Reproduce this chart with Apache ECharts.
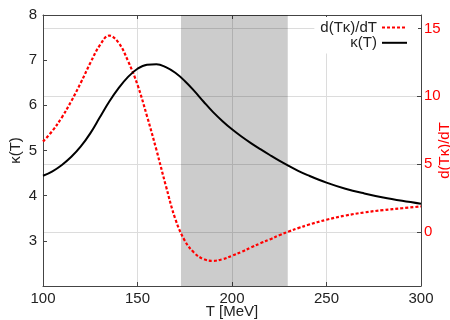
<!DOCTYPE html>
<html><head><meta charset="utf-8">
<script src="https://cdn.jsdelivr.net/npm/echarts@6/dist/echarts.min.js"></script>
<style>html,body{margin:0;padding:0;background:#fff}#c{width:450px;height:320px}</style>
</head><body><div id="c"></div>
<script>
const temps  = [100,105,110,115,120,125,130,135,140,145,150,155,160,165,170,175,180,185,190,195,200,205,210,215,220,225,230,235,240,250,260,270,280,290,300];
const kappa  = [4.44,4.54,4.68,4.86,5.09,5.38,5.73,6.08,6.38,6.63,6.81,6.90,6.91,6.845,6.72,6.54,6.32,6.08,5.85,5.65,5.47,5.31,5.165,5.03,4.90,4.775,4.66,4.55,4.455,4.29,4.155,4.05,3.96,3.885,3.82];
const dTkappa = [6.66,7.45,8.45,9.65,11.0,12.45,13.75,14.48,13.95,12.6,10.85,8.55,6.05,3.4,0.95,-0.65,-1.55,-2.02,-2.14,-2.02,-1.77,-1.48,-1.16,-0.85,-0.56,-0.25,0.02,0.27,0.5,0.89,1.2,1.43,1.6,1.74,1.87];
const xTicks = [100,150,200,250,300];
const leftTicks = [3,4,5,6,7,8];
const rightTicks = [0,5,10,15];
const bandRange = [173, 229.5];
const seriesNames = ['d(Tκ)/dT', 'κ(T)'];

const FONT = '"Liberation Sans", Arial, sans-serif';
const FRAME = '#444';
const chart = echarts.init(document.getElementById('c'));
const kData = temps.map((t,i)=>[t,kappa[i]]);
const dData = temps.map((t,i)=>[t,dTkappa[i]]);
chart.setOption({
  animation:false,
  textStyle:{fontFamily:FONT},
  grid:{left:43,right:29,top:15,bottom:34,containLabel:false,outerBoundsMode:'none'},
  legend:{
    orient:'vertical', align:'right', right:32, top:17,
    itemWidth:25, itemHeight:19, itemGap:0,
    backgroundColor:'#fff', padding:[3,10,3,6],
    itemStyle:{opacity:0},
    textStyle:{fontSize:15,color:'#222',fontFamily:FONT},
    data:seriesNames
  },
  xAxis:[{
    type:'value', min:xTicks[0], max:xTicks[xTicks.length-1], interval:50,
    name:'T [MeV]', nameLocation:'middle', nameGap:18, nameMoveOverlap:false,
    nameTextStyle:{fontSize:15,color:'#222',fontFamily:FONT},
    axisLine:{onZero:false,lineStyle:{color:FRAME,width:1}},
    axisTick:{inside:true,length:4,lineStyle:{color:FRAME}},
    axisLabel:{fontSize:15,color:'#222',margin:5,fontFamily:FONT},
    splitLine:{show:true,lineStyle:{color:'#dcdcdc',width:1}}
  },{
    type:'value', position:'top', min:xTicks[0], max:xTicks[xTicks.length-1], interval:50,
    axisLine:{show:true,onZero:false,lineStyle:{color:FRAME,width:1}},
    axisTick:{show:true,inside:true,length:4,lineStyle:{color:FRAME}},
    axisLabel:{show:false}, splitLine:{show:false}
  }],
  yAxis:[{
    type:'value', position:'left', min:2, max:8,
    name:'κ(T)', nameLocation:'middle', nameGap:20, nameRotate:90, nameMoveOverlap:false,
    nameTextStyle:{fontSize:15,color:'#222',fontFamily:FONT},
    axisLine:{show:true,onZero:false,lineStyle:{color:FRAME,width:1}},
    axisTick:{show:true,inside:true,length:4,customValues:leftTicks,lineStyle:{color:FRAME}},
    axisLabel:{fontSize:15,color:'#222',margin:6,customValues:leftTicks,fontFamily:FONT},
    splitLine:{show:false}
  },{
    type:'value', position:'right', min:-4, max:16,
    name:'d(Tκ)/dT', nameLocation:'middle', nameGap:16, nameRotate:90, nameMoveOverlap:false,
    nameTextStyle:{fontSize:15,color:'#ff0000',fontFamily:FONT},
    axisLine:{show:true,onZero:false,lineStyle:{color:FRAME,width:1}},
    axisTick:{show:true,inside:true,length:4,customValues:rightTicks,lineStyle:{color:FRAME}},
    axisLabel:{fontSize:15,color:'#ff0000',margin:3,customValues:rightTicks,fontFamily:FONT},
    splitLine:{show:true,lineStyle:{color:'#dcdcdc',width:1}}
  }],
  series:[{
    type:'line', name:'band', data:[], xAxisIndex:0, yAxisIndex:0, z:1, silent:true,
    markArea:{silent:true, itemStyle:{color:'rgba(0,0,0,0.2)'}, data:[[{xAxis:bandRange[0]},{xAxis:bandRange[1]}]]}
  },{
    type:'line', name:seriesNames[0], data:dData, yAxisIndex:1, smooth:0.4, showSymbol:false, symbol:'none', z:3,
    lineStyle:{color:'#ff0000',width:2.2,type:[3,2]}, itemStyle:{color:'#ff0000'}
  },{
    type:'line', name:seriesNames[1], data:kData, yAxisIndex:0, smooth:0.4, showSymbol:false, symbol:'none', z:4,
    lineStyle:{color:'#000',width:2}, itemStyle:{color:'#000'}
  }]
});
</script></body></html>
